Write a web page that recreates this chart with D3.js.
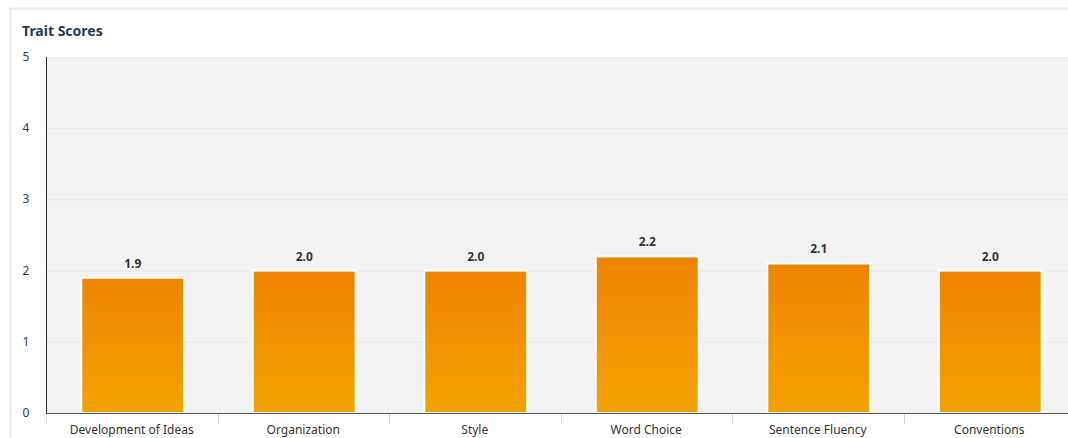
<!DOCTYPE html>
<html>
<head>
<meta charset="utf-8">
<script src="https://cdn.jsdelivr.net/npm/d3@7"></script>
<style>
  body { margin: 0; background: #fff; font-family: "Noto Sans", "Open Sans", sans-serif; overflow: hidden; }
</style>
</head>
<body>
<div id="chart"></div>
<script>
    var traits = ["Development of Ideas", "Organization", "Style", "Word Choice", "Sentence Fluency", "Conventions"];
    var scores = [1.9, 2.0, 2.0, 2.2, 2.1, 2.0];
    var yTicks = [0, 1, 2, 3, 4, 5];

    var width = 1068, height = 438;
    var margin = {left: 46, top: 57, bottom: 25};
    var plotW = 6 * 171.5;

    var svg = d3.select("#chart").append("svg")
        .attr("width", width)
        .attr("height", height)
        .style("display", "block");

    // card
    svg.append("rect")
        .attr("x", 10.5).attr("y", 8.5)
        .attr("width", width).attr("height", height)
        .attr("fill", "#fff")
        .attr("stroke", "#ececec")
        .attr("stroke-width", 2);

    svg.append("text")
        .attr("x", 22).attr("y", 36)
        .attr("fill", "#1f3b5e")
        .style("font-size", "14px")
        .style("font-weight", "bold")
        .text("Trait Scores");

    var x = d3.scaleBand().domain(traits).range([margin.left + 1, margin.left + 1 + plotW]).paddingInner(0.4).paddingOuter(0.2);
    var xb = d3.scaleBand().domain(traits).range([margin.left, margin.left + plotW]);
    var y = d3.scaleLinear().domain([0, 5]).range([413, margin.top]);

    svg.append("rect")
        .attr("x", margin.left).attr("y", margin.top)
        .attr("width", plotW).attr("height", 413 - margin.top)
        .attr("fill", "#f2f2f2");

    // gridlines
    svg.selectAll("line.grid").data(yTicks.slice(1)).enter().append("line")
        .attr("class", "grid")
        .attr("x1", margin.left).attr("x2", margin.left + plotW)
        .attr("y1", d => y(d) + 0.5).attr("y2", d => y(d) + 0.5)
        .attr("stroke", "#e6e6e6");

    // y labels
    svg.selectAll("text.ytick").data(yTicks).enter().append("text")
        .attr("class", "ytick")
        .attr("x", 26).attr("y", d => y(d) + 4)
        .attr("text-anchor", "middle")
        .attr("fill", "#2d3e50")
        .style("font-size", "12px")
        .text(d => d);

    var defs = svg.append("defs");
    var grad = defs.append("linearGradient").attr("id", "barGrad")
        .attr("x1", 0).attr("y1", 0).attr("x2", 0).attr("y2", 1);
    grad.append("stop").attr("offset", "0%").attr("stop-color", "#ee8400");
    grad.append("stop").attr("offset", "100%").attr("stop-color", "#f3a200");

    svg.selectAll("rect.bar").data(scores).enter().append("rect")
        .attr("class", "bar")
        .attr("x", (d, i) => x(traits[i]))
        .attr("y", d => y(d))
        .attr("width", x.bandwidth())
        .attr("height", d => 413 - y(d))
        .attr("fill", "url(#barGrad)")
        .attr("stroke", "#fff")
        .attr("stroke-width", 2);

    svg.selectAll("text.val").data(scores).enter().append("text")
        .attr("class", "val")
        .attr("x", (d, i) => x(traits[i]) + x.bandwidth() / 2)
        .attr("y", d => y(d) - 10)
        .attr("text-anchor", "middle")
        .attr("fill", "#333")
        .style("font-size", "12px")
        .style("font-weight", "bold")
        .text(d => d.toFixed(1));

    // axes lines
    svg.append("line")
        .attr("x1", margin.left + 0.5).attr("x2", margin.left + 0.5)
        .attr("y1", margin.top).attr("y2", 413)
        .attr("stroke", "#333");
    svg.append("line")
        .attr("x1", margin.left).attr("x2", margin.left + plotW)
        .attr("y1", 413.5).attr("y2", 413.5)
        .attr("stroke", "#555");

    // category ticks
    var bounds = traits.map(t => xb(t)).concat([margin.left + plotW]);
    svg.selectAll("line.xtick").data(bounds).enter().append("line")
        .attr("class", "xtick")
        .attr("x1", d => Math.round(d) + 0.5).attr("x2", d => Math.round(d) + 0.5)
        .attr("y1", 414).attr("y2", 424)
        .attr("stroke", "#ccd6eb");

    svg.selectAll("text.xlab").data(traits).enter().append("text")
        .attr("class", "xlab")
        .attr("x", d => xb(d) + xb.bandwidth() / 2)
        .attr("y", 434)
        .attr("text-anchor", "middle")
        .attr("fill", "#333")
        .style("font-size", "12px")
        .text(d => d);
</script>
</body>
</html>
